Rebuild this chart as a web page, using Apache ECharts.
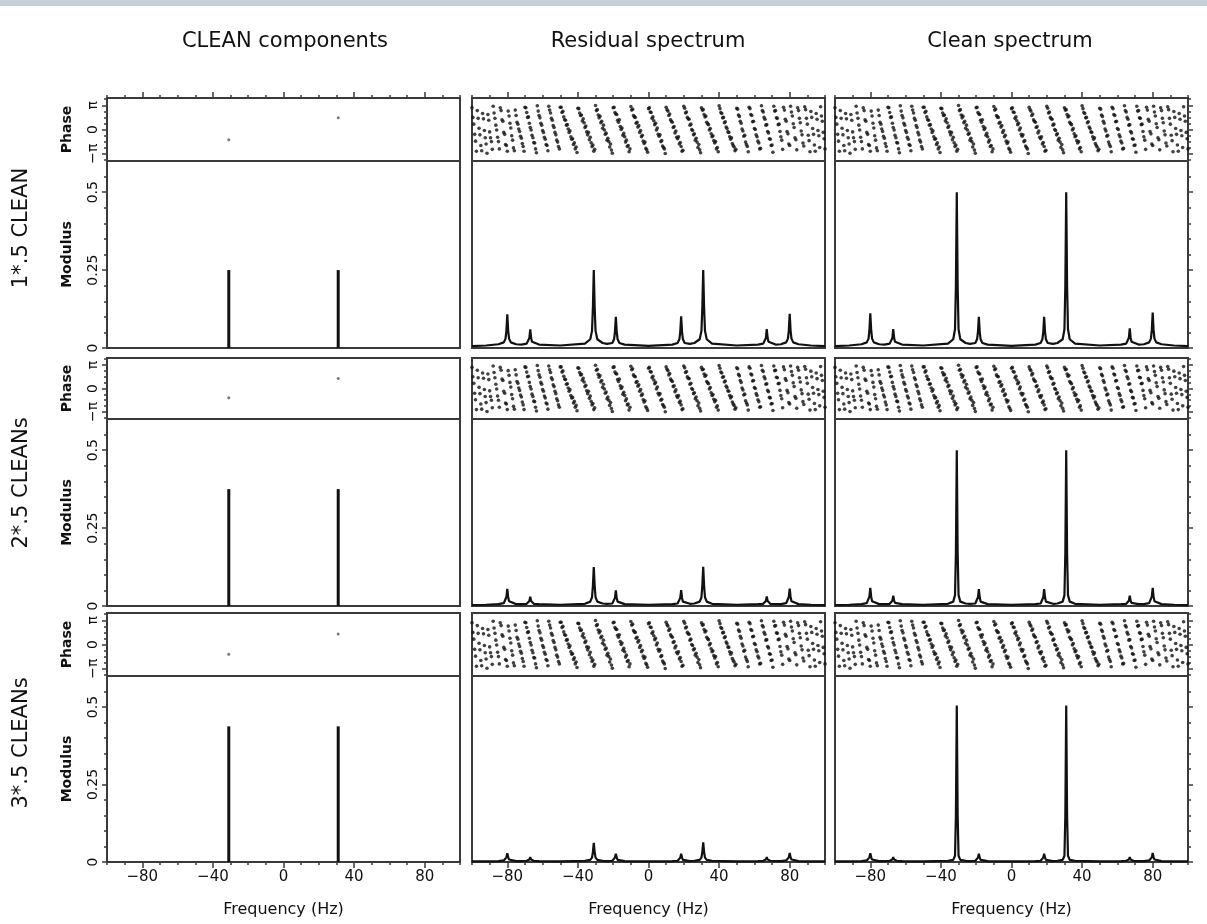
<!DOCTYPE html>
<html><head><meta charset="utf-8">
<script src="https://cdn.jsdelivr.net/npm/echarts@6/dist/echarts.min.js"></script>
<style>html,body{margin:0;padding:0;background:#fff}#chart{width:1207px;height:924px}</style>
</head><body><div id="chart"></div>
<script>
// ---------------- DATA ----------------
const columnTitles = ['CLEAN components', 'Residual spectrum', 'Clean spectrum'];
const rowLabels = ['1*.5 CLEAN', '2*.5 CLEANs', '3*.5 CLEANs'];
const xAxisTitle = 'Frequency (Hz)';
const phaseTitle = 'Phase';
const modulusTitle = 'Modulus';
const freqTickLabels = [-80, -40, 0, 40, 80];
const freqMinorTicks = [-100, -90, -70, -60, -50, -30, -20, -10, 10, 20, 30, 50, 60, 70, 90, 100];
const phaseTickLabels = [-1, 0, 1];             // in units of pi
const phaseMinorTicks = [-1.25, -0.75, -0.5, -0.25, 0.25, 0.5, 0.75, 1.25];
const modulusTickLabels = [0, 0.25, 0.5];
const modulusMinorTicks = [0.05, 0.1, 0.15, 0.2, 0.3, 0.35, 0.4, 0.45, 0.55];

// CLEAN components (column 1)
const componentFreqs = [-31, 31];
const componentHeights = [[0.25, 0.25], [0.375, 0.375], [0.4375, 0.4375]];
const componentPhases = [[-0.42, 0.49], [-0.39, 0.43], [-0.40, 0.43]]; // units of pi

// Phase of residual / clean spectra (units of pi), sampled every 0.5 Hz from -100 Hz
const phaseFreqStart = -100;
const phaseFreqStep = 0.5;
const spectrumPhase = [
 0.90,0.50,0.22,-0.20,-0.48,-0.90,0.78,0.46,0.05,-0.22,-0.66,-0.88,0.66,0.44,-0.04,-0.34,-0.60,-0.98,0.62,0.38,-0.10,
 -0.34,-0.50,-0.82,0.96,0.68,0.46,0.18,-0.02,-0.32,-0.50,-0.80,0.90,0.78,0.40,0.34,-0.12,-0.20,-0.62,-0.66,-0.90,0.76,0.56,0.26,0.06,-0.26,-0.44,-0.76,-0.88,0.80,0.58,
 0.30,0.22,0.02,-0.08,-0.28,-0.36,-0.58,-0.70,-0.90,0.92,0.90,0.70,0.50,0.52,0.26,0.08,-0.02,-0.24,-0.34,-0.54,-0.56,-0.80,-0.96,0.98,0.76,0.58,0.48,0.26,0.18,-0.04,-0.12,-0.32,-0.40,-0.62,-0.66,-0.88,0.96,0.80,0.68,0.46,0.38,0.16,0.08,-0.12,-0.22,-0.44,-0.52,-0.70,-0.80,0.92,
 0.92,0.70,0.75,0.52,0.40,0.38,0.18,0.20,0.02,-0.12,-0.05,-0.30,-0.40,-0.38,-0.62,-0.55,-0.80,-0.72,-0.95,0.88,
 0.86,0.68,0.58,0.60,0.35,0.44,0.28,0.08,0.14,-0.10,-0.22,-0.12,-0.42,-0.32,-0.55,-0.70,-0.64,-0.90,-0.82,0.99,
 0.78,0.82,0.60,0.48,0.55,0.28,0.34,0.05,0.18,-0.02,-0.20,-0.15,-0.44,-0.36,-0.50,-0.72,-0.60,-0.85,-0.98,0.90,
 0.92,0.70,0.64,0.62,0.38,0.30,0.40,0.12,0.00,0.06,-0.24,-0.16,-0.30,-0.52,-0.44,-0.70,-0.66,-0.92,-0.80,0.95,
 0.80,0.84,0.58,0.52,0.50,0.26,0.30,0.10,0.16,-0.12,-0.04,-0.30,-0.24,-0.48,-0.58,-0.52,-0.78,-0.84,-0.94,0.86,
 0.90,0.72,0.70,0.46,0.52,0.36,0.20,0.26,-0.02,0.06,-0.20,-0.28,-0.22,-0.50,-0.46,-0.68,-0.74,-0.80,-0.99,0.92,
 0.82,0.76,0.58,0.64,0.40,0.34,0.30,0.08,0.12,-0.14,-0.06,-0.32,-0.38,-0.30,-0.60,-0.54,-0.70,-0.90,-0.86,0.96,
 0.88,0.68,0.72,0.50,0.44,0.42,0.18,0.22,0.00,-0.04,-0.22,-0.18,-0.44,-0.36,-0.52,-0.74,-0.62,-0.84,-0.96,0.90,
 0.80,0.82,0.62,0.52,0.56,0.30,0.24,0.20,-0.02,0.04,-0.18,-0.30,-0.26,-0.46,-0.56,-0.50,-0.80,-0.74,-0.92,0.98,
 0.86,0.70,0.66,0.48,0.50,0.28,0.32,0.10,0.04,-0.10,-0.12,-0.30,-0.40,-0.34,-0.58,-0.66,-0.72,-0.88,-0.82,
 0.88,0.84,0.60,0.54,0.34,0.26,0.02,-0.06,-0.28,-0.24,-0.52,-0.62,-0.70,-0.92,0.92,0.86,0.62,0.58,0.32,0.34,0.04,0.00,-0.22,-0.30,-0.48,-0.56,-0.80,-0.78,0.98,0.78,0.72,0.50,0.42,0.18,0.20,-0.08,-0.14,-0.38,-0.40,-0.66,-0.64,-0.94,0.96,0.76,0.78,0.48,0.46,0.20,0.22,-0.08,
 -0.30,-0.44,-0.82,0.92,0.80,0.42,0.34,-0.08,-0.18,-0.60,-0.66,0.96,0.72,0.56,0.24,0.08,-0.34,-0.42,-0.84,0.90,0.78,0.46,0.28,-0.06,-0.22,-0.56,-0.68,0.94,0.82,0.46,
 0.22,-0.24,-0.46,-0.92,0.74,0.50,0.04,-0.20,-0.64,-0.90,0.66,0.42,-0.04,-0.26,-0.74,0.94,0.56,0.34,-0.12,-0.38,-0.80
];

// Modulus spectra sampled at these frequencies (Hz)
const specFreqs = [-100,-92,
 -85,-82,-81,-80.5,-80,-79.5,-79,-78,-75,
 -72,-69,-68,-67.5,-67,-66.5,-66,-65,-62,
 -50,
 -36,-33,-32,-31.5,-31,-30.5,-30,-29,-26,
 -23.5,-20.5,-19.5,-19,-18.5,-18,-17.5,-16.5,-13.5,
 0,
 13.5,16.5,17.5,18,18.5,19,19.5,20.5,23.5,
 26,29,30,30.5,31,31.5,32,33,36,
 50,
 62,65,66,66.5,67,67.5,68,69,72,
 75,78,79,79.5,80,80.5,81,82,85,
 92,100];

const residual1 = [0.006,0.008,
 0.012,0.018,0.030,0.056,0.108,0.056,0.030,0.018,0.012,
 0.011,0.014,0.020,0.032,0.060,0.032,0.020,0.014,0.011,
 0.008,
 0.014,0.028,0.055,0.130,0.250,0.130,0.055,0.028,0.016,
 0.013,0.016,0.028,0.052,0.100,0.052,0.028,0.016,0.011,
 0.007,
 0.011,0.016,0.028,0.052,0.102,0.052,0.028,0.016,0.013,
 0.016,0.028,0.055,0.130,0.250,0.130,0.055,0.028,0.014,
 0.008,
 0.011,0.014,0.020,0.032,0.061,0.032,0.020,0.014,0.011,
 0.012,0.018,0.030,0.056,0.110,0.056,0.030,0.018,0.012,
 0.008,0.006];
const residual2 = [0.003,0.004,
 0.006,0.009,0.015,0.029,0.055,0.029,0.015,0.009,0.006,
 0.006,0.007,0.010,0.016,0.030,0.016,0.010,0.007,0.006,
 0.004,
 0.007,0.014,0.028,0.065,0.125,0.065,0.028,0.014,0.008,
 0.007,0.008,0.014,0.026,0.050,0.026,0.014,0.008,0.006,
 0.004,
 0.006,0.008,0.014,0.026,0.051,0.026,0.014,0.008,0.007,
 0.008,0.014,0.028,0.065,0.126,0.065,0.028,0.014,0.007,
 0.004,
 0.006,0.007,0.010,0.016,0.031,0.016,0.010,0.007,0.006,
 0.006,0.009,0.015,0.029,0.056,0.029,0.015,0.009,0.006,
 0.004,0.003];
const residual3 = [0.002,0.002,
 0.003,0.005,0.008,0.015,0.028,0.015,0.008,0.005,0.003,
 0.003,0.004,0.005,0.008,0.016,0.008,0.005,0.004,0.003,
 0.002,
 0.004,0.007,0.014,0.032,0.062,0.032,0.014,0.007,0.004,
 0.003,0.004,0.007,0.014,0.027,0.014,0.007,0.004,0.003,
 0.002,
 0.003,0.004,0.007,0.014,0.027,0.014,0.007,0.004,0.003,
 0.004,0.007,0.014,0.032,0.063,0.032,0.014,0.007,0.004,
 0.002,
 0.003,0.004,0.005,0.008,0.016,0.008,0.005,0.004,0.003,
 0.003,0.005,0.008,0.015,0.029,0.015,0.008,0.005,0.003,
 0.002,0.002];
const clean1 = [0.006,0.008,
 0.012,0.018,0.030,0.057,0.111,0.057,0.030,0.018,0.012,
 0.011,0.014,0.020,0.032,0.061,0.032,0.020,0.014,0.011,
 0.008,
 0.014,0.028,0.060,0.200,0.500,0.200,0.060,0.028,0.016,
 0.013,0.016,0.028,0.052,0.100,0.052,0.028,0.016,0.011,
 0.007,
 0.011,0.016,0.028,0.052,0.100,0.052,0.028,0.016,0.013,
 0.016,0.028,0.060,0.200,0.500,0.200,0.060,0.028,0.014,
 0.008,
 0.011,0.014,0.020,0.033,0.063,0.033,0.020,0.014,0.011,
 0.012,0.018,0.030,0.058,0.114,0.058,0.030,0.018,0.012,
 0.008,0.006];
const clean2 = [0.003,0.004,
 0.006,0.009,0.015,0.030,0.058,0.030,0.015,0.009,0.006,
 0.006,0.007,0.010,0.017,0.033,0.017,0.010,0.007,0.006,
 0.004,
 0.007,0.014,0.035,0.170,0.500,0.170,0.035,0.014,0.008,
 0.007,0.008,0.014,0.028,0.054,0.028,0.014,0.008,0.006,
 0.004,
 0.006,0.008,0.014,0.028,0.054,0.028,0.014,0.008,0.007,
 0.008,0.014,0.035,0.170,0.500,0.170,0.035,0.014,0.007,
 0.004,
 0.006,0.007,0.010,0.017,0.033,0.017,0.010,0.007,0.006,
 0.006,0.009,0.015,0.030,0.058,0.030,0.015,0.009,0.006,
 0.004,0.003];
const clean3 = [0.002,0.002,
 0.003,0.005,0.008,0.015,0.028,0.015,0.008,0.005,0.003,
 0.003,0.004,0.005,0.008,0.016,0.008,0.005,0.004,0.003,
 0.002,
 0.004,0.007,0.020,0.150,0.505,0.150,0.020,0.007,0.004,
 0.003,0.004,0.007,0.014,0.027,0.014,0.007,0.004,0.003,
 0.002,
 0.003,0.004,0.007,0.014,0.027,0.014,0.007,0.004,0.003,
 0.004,0.007,0.020,0.150,0.505,0.150,0.020,0.007,0.004,
 0.002,
 0.003,0.004,0.005,0.008,0.016,0.008,0.005,0.004,0.003,
 0.003,0.005,0.008,0.015,0.029,0.015,0.008,0.005,0.003,
 0.002,0.002];
const residualSpectra = [residual1, residual2, residual3];
const cleanSpectra = [clean1, clean2, clean3];

// ---------------- LAYOUT / STYLE ----------------
const FONT = "'DejaVu Sans', 'Liberation Sans', Arial, sans-serif";
const INK = '#111';
const FRAME = '#3a3a3a';
const colLeft = [107, 472, 835];
const colWidth = 353;
const rowLayout = [[98, 161, 348], [358, 419, 606], [613, 676, 862]]; // phase top, divider, bottom
const rowLabelY = [228, 483, 743];
const titleX = [285, 648, 1010];

const chart = echarts.init(document.getElementById('chart'), null, {renderer: 'canvas'});

const grids = [], mainX = [], mainY = [], extraX = [], extraY = [], series = [];
const hidden = () => ({axisLine: {show: false, onZero: false}, axisTick: {show: false}, axisLabel: {show: false}, splitLine: {show: false}});
const tickStyle = {color: FRAME, width: 1.5};
const noZeroLine = {show: false, onZero: false};

const phasePoints = spectrumPhase.map((p, i) => [phaseFreqStart + i * phaseFreqStep, p]);
const fmtFreq = v => (v < 0 ? '\u2212' + Math.abs(v) : String(v));
const fmtPhase = v => (v > 0.5 ? '\u03c0' : (v < -0.5 ? '\u2212\u03c0' : '0'));
const fmtMod = v => (v === 0 ? '0' : String(v));

for (let r = 0; r < 3; r++) {
  for (let c = 0; c < 3; c++) {
    const [pt, dv, bt] = rowLayout[r];
    for (let k = 0; k < 2; k++) {
      const isPhase = k === 0;
      const g = grids.length;
      grids.push({
        left: colLeft[c], top: isPhase ? pt : dv, width: colWidth, height: isPhase ? dv - pt : bt - dv,
        show: true, borderColor: FRAME, borderWidth: 2, backgroundColor: 'transparent',
        containLabel: false, outerBoundsMode: 'none'
      });
      // ---- x axis ----
      const xa = Object.assign({gridIndex: g, type: 'value', min: -100, max: 100, position: 'bottom'}, hidden());
      if (isPhase && r === 0) {
        xa.position = 'top';
        xa.axisTick = {show: true, customValues: freqTickLabels, length: 6, lineStyle: tickStyle};
        extraX.push(Object.assign({gridIndex: g, type: 'value', min: -100, max: 100, position: 'top'}, hidden(),
          {axisLine: noZeroLine, axisTick: {show: true, customValues: freqMinorTicks, length: 3, lineStyle: tickStyle}}));
      }
      if (!isPhase && r === 2) {
        xa.axisTick = {show: true, customValues: freqTickLabels, length: 6, lineStyle: tickStyle};
        xa.axisLabel = {show: true, customValues: freqTickLabels, formatter: fmtFreq, margin: 8,
          fontSize: 15, color: INK, fontFamily: FONT};
        xa.name = xAxisTitle;
        xa.nameLocation = 'middle';
        xa.nameGap = 40;
        xa.nameTextStyle = {fontSize: 16, color: INK, fontFamily: FONT};
        extraX.push(Object.assign({gridIndex: g, type: 'value', min: -100, max: 100, position: 'bottom'}, hidden(),
          {axisLine: noZeroLine, axisTick: {show: true, customValues: freqMinorTicks, length: 3, lineStyle: tickStyle}}));
      }
      mainX.push(xa);
      // ---- y axis ----
      const yMin = isPhase ? -1.3 : 0, yMax = isPhase ? 1.3 : 0.6;
      const majors = isPhase ? phaseTickLabels : modulusTickLabels;
      const minors = isPhase ? phaseMinorTicks : modulusMinorTicks;
      const ya = Object.assign({gridIndex: g, type: 'value', min: yMin, max: yMax, position: 'left'}, hidden());
      if (c === 0) {
        ya.axisTick = {show: true, customValues: majors, length: 5, lineStyle: tickStyle};
        ya.axisLabel = {show: true, customValues: majors, formatter: isPhase ? fmtPhase : fmtMod,
          rotate: 90, margin: 7, fontSize: 14, color: INK, fontFamily: FONT};
        ya.name = isPhase ? phaseTitle : modulusTitle;
        ya.nameLocation = 'middle';
        ya.nameRotate = 90;
        ya.nameGap = 33;
        ya.nameTextStyle = {fontSize: 14, fontWeight: 'bold', color: INK, fontFamily: FONT};
        extraY.push(Object.assign({gridIndex: g, type: 'value', min: yMin, max: yMax, position: 'left'}, hidden(),
          {axisLine: noZeroLine, axisTick: {show: true, customValues: minors, length: 3, lineStyle: tickStyle}}));
      } else if (c === 2) {
        ya.position = 'right';
        ya.axisTick = {show: true, customValues: majors, length: 5, lineStyle: tickStyle};
        extraY.push(Object.assign({gridIndex: g, type: 'value', min: yMin, max: yMax, position: 'right'}, hidden(),
          {axisLine: noZeroLine, axisTick: {show: true, customValues: minors, length: 3, lineStyle: tickStyle}}));
      }
      mainY.push(ya);
      // ---- series ----
      if (c === 0) {
        if (isPhase) {
          series.push({type: 'scatter', xAxisIndex: g, yAxisIndex: g, symbol: 'circle', symbolSize: 3,
            itemStyle: {color: '#555'}, silent: true,
            data: componentFreqs.map((f, i) => [f, componentPhases[r][i]])});
        } else {
          series.push({type: 'bar', xAxisIndex: g, yAxisIndex: g, barWidth: 3, silent: true,
            itemStyle: {color: INK},
            data: componentFreqs.map((f, i) => [f, componentHeights[r][i]])});
        }
      } else {
        if (isPhase) {
          series.push({type: 'scatter', xAxisIndex: g, yAxisIndex: g, symbol: 'circle', symbolSize: 3.6,
            itemStyle: {color: INK}, silent: true, data: phasePoints});
        } else {
          const vals = c === 1 ? residualSpectra[r] : cleanSpectra[r];
          series.push({type: 'line', xAxisIndex: g, yAxisIndex: g, showSymbol: false, silent: true,
            lineStyle: {color: INK, width: 2.2}, data: specFreqs.map((f, i) => [f, vals[i]])});
        }
      }
    }
  }
}

const graphics = [
  {type: 'rect', left: 0, top: 0, shape: {x: 0, y: 0, width: 1207, height: 6}, style: {fill: '#c6d0d9'}, silent: true}
];
columnTitles.forEach((t, i) => graphics.push({
  type: 'text', x: titleX[i], y: 42, silent: true,
  style: {text: t, fontSize: 21, fontFamily: FONT, fill: INK, textAlign: 'center', textVerticalAlign: 'middle'}
}));
rowLabels.forEach((t, i) => graphics.push({
  type: 'text', x: 22, y: rowLabelY[i], rotation: Math.PI / 2, silent: true,
  style: {text: t, fontSize: 21, fontFamily: FONT, fill: INK, textAlign: 'center', textVerticalAlign: 'middle'}
}));

chart.setOption({
  animation: false,
  backgroundColor: '#ffffff',
  grid: grids,
  xAxis: mainX.concat(extraX),
  yAxis: mainY.concat(extraY),
  series: series,
  graphic: graphics
});
</script></body></html>
